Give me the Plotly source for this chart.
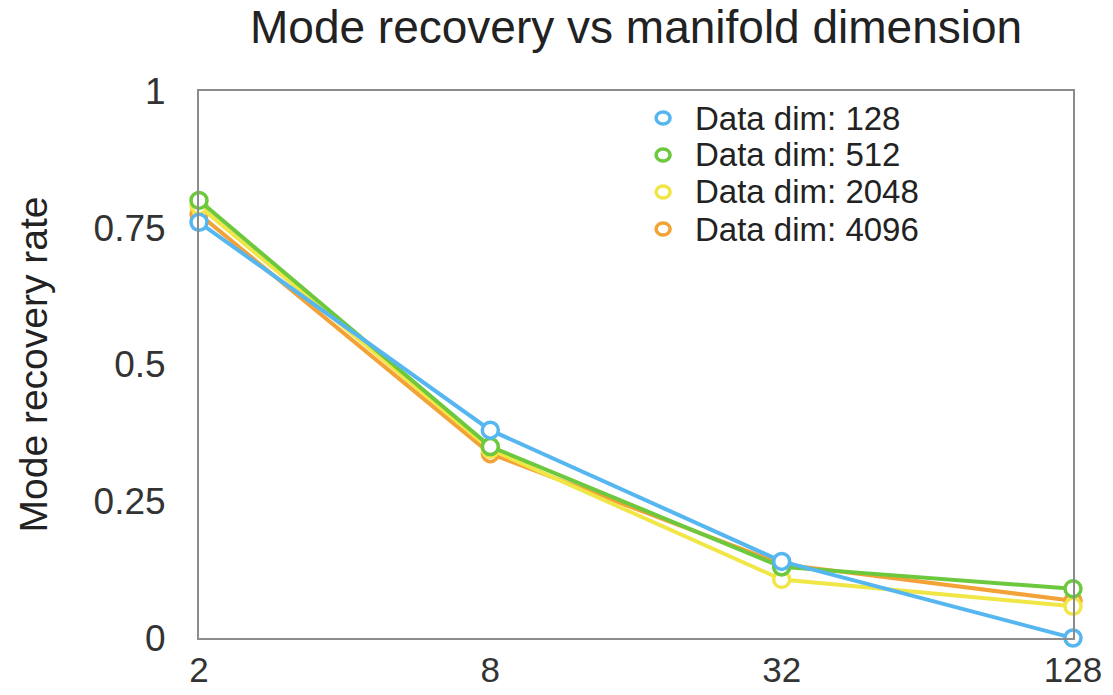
import math
import plotly.graph_objects as go

manifold_dim = [2, 8, 32, 128]
series_names = ["Data dim: 128", "Data dim: 512", "Data dim: 2048", "Data dim: 4096"]
dim128 = [0.76, 0.38, 0.14, 0.0]
dim512 = [0.80, 0.35, 0.13, 0.09]
dim2048 = [0.79, 0.345, 0.107, 0.058]
dim4096 = [0.775, 0.337, 0.135, 0.068]
y_ticks = [0, 0.25, 0.5, 0.75, 1]
y_tick_labels = ["0", "0.25", "0.5", "0.75", "1"]

colors = ["#55B6F0", "#6CC83C", "#F0E646", "#F2A236"]
values = [dim128, dim512, dim2048, dim4096]

FONT = "Liberation Sans, Arial, Helvetica, sans-serif"

fig = go.Figure()
# draw orange first so blue ends on top
for i in [3, 2, 1, 0]:
    fig.add_trace(go.Scatter(
        x=manifold_dim, y=values[i], mode="lines+markers", name=series_names[i],
        line=dict(color=colors[i], width=4),
        marker=dict(symbol="circle", size=16, color="white",
                    line=dict(color=colors[i], width=3.5)),
        showlegend=False, cliponaxis=False,
    ))

# legend drawn as text + circle glyphs (compact row spacing like the reference)
legend_x_marker = 0.531
legend_x_text = 0.566
legend_rows = [0.9506, 0.883, 0.8154, 0.7477]
for i, name in enumerate(series_names):
    fig.add_shape(type="circle", xref="paper", yref="paper",
                  xsizemode="pixel", ysizemode="pixel",
                  xanchor=legend_x_marker, yanchor=legend_rows[i],
                  x0=-7, x1=7, y0=-6, y1=6,
                  line=dict(color=colors[i], width=3.5), fillcolor="white")
    fig.add_annotation(text=name, xref="paper", yref="paper",
                       x=legend_x_text, y=legend_rows[i], xanchor="left", yanchor="middle",
                       showarrow=False, borderpad=0,
                       font=dict(family=FONT, size=33, color="#222222"))

axis_common = dict(
    showgrid=False, zeroline=False, showline=True, mirror=True,
    linecolor="#8c8c8c", linewidth=2, ticks="", automargin=False,
)

fig.update_layout(
    width=1113, height=695,
    margin=dict(l=199, r=40, t=91, b=57),
    paper_bgcolor="white", plot_bgcolor="white",
    showlegend=False,
    title=dict(text="Mode recovery vs manifold dimension", x=0.5715, xanchor="center",
               y=1 - 27 / 695, yanchor="middle",
               font=dict(family=FONT, size=46, color="#222222")),
    xaxis=dict(type="log", range=[math.log10(2) - 1e-6, math.log10(128) + 1e-6],
               tickvals=manifold_dim,
               ticktext=[str(v) for v in manifold_dim], ticklabelstandoff=0,
               tickfont=dict(family=FONT, size=35, color="#333333"),
               **axis_common),
    yaxis=dict(range=[0, 1], tickvals=y_ticks, ticktext=y_tick_labels,
               ticklabelstandoff=24,
               tickfont=dict(family=FONT, size=37, color="#333333"),
               title=dict(text="Mode recovery rate", standoff=34,
                          font=dict(family=FONT, size=39, color="#222222")),
               **axis_common),
)

fig.write_html("out.html")
